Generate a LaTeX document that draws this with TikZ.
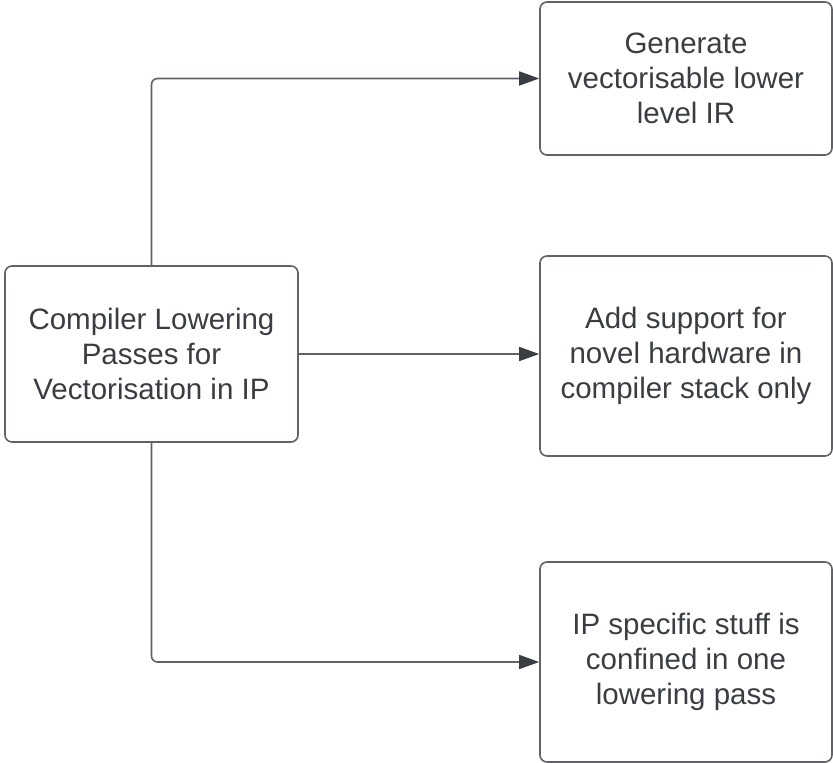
\documentclass[tikz,border=0pt]{standalone}
\usepackage{fontspec}
\setmainfont{Liberation Sans}
\usetikzlibrary{arrows.meta}
\definecolor{edge}{HTML}{5F6268}
\definecolor{ink}{HTML}{3A3D42}
\begin{document}
\begin{tikzpicture}[x=1pt,y=-1pt,
  box/.style={draw=edge,line width=1.6pt,rounded corners=7pt,fill=white,
    align=center,text=ink,inner sep=0pt,
    font=\fontsize{29.5}{35}\selectfont},
  conn/.style={draw=edge,line width=1.6pt,rounded corners=6pt,
    -{Triangle[length=20pt,width=14pt,color=ink]}}]
  \useasboundingbox (0,0) rectangle (833,763);
  % boxes placed by their centres
  \node[box,minimum width=293pt,minimum height=176pt] (src) at (151.5,354)
    {Compiler Lowering\\Passes for\\Vectorisation in IP};
  \node[box,minimum width=292pt,minimum height=153pt] (gen) at (686,78.5)
    {Generate\\vectorisable lower\\level IR};
  \node[box,minimum width=292pt,minimum height=200pt] (hw) at (686,356)
    {Add support for\\novel hardware in\\compiler stack only};
  \node[box,minimum width=292pt,minimum height=200pt] (ip) at (686,662)
    {IP specific stuff is\\confined in one\\lowering pass};
  % connectors
  \draw[conn] (src.north) |- (gen.west);
  \draw[conn] (src.east) -- (src.east -| hw.west);
  \draw[conn] (src.south) |- (ip.west);
\end{tikzpicture}
\end{document}
